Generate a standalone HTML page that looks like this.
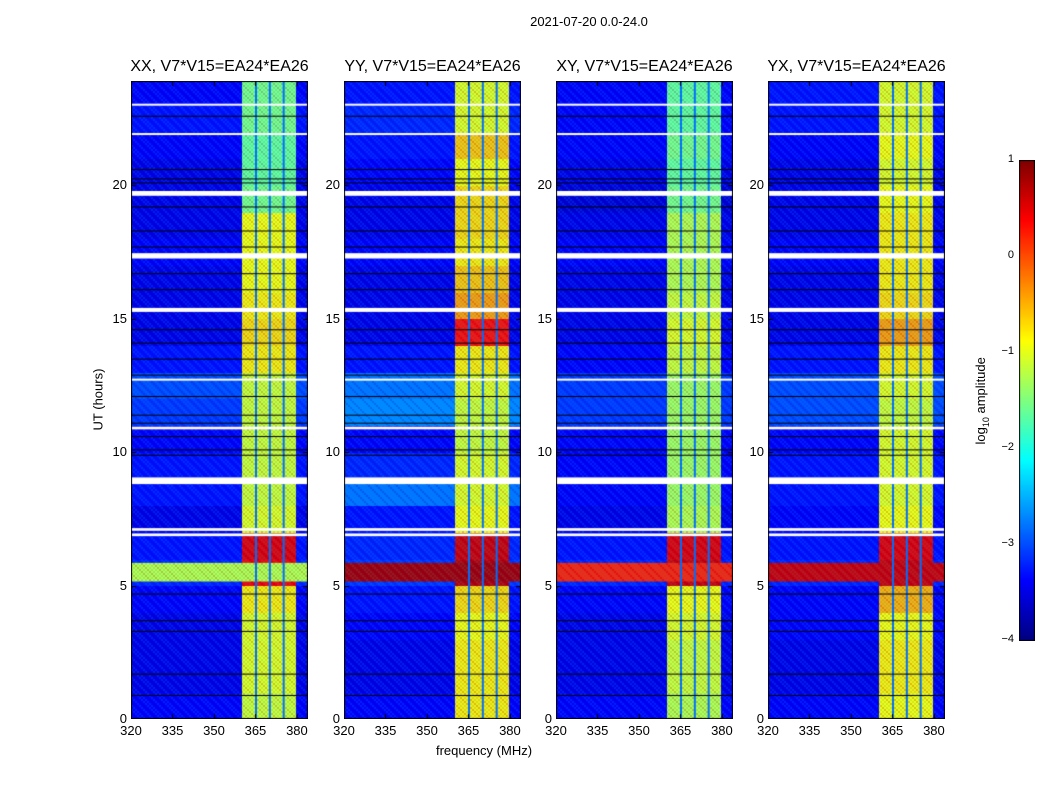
<!DOCTYPE html>
<html><head><meta charset="utf-8">
<style>
body{margin:0;background:#fff;width:1050px;height:800px;position:relative;font-family:"Liberation Sans",sans-serif;overflow:hidden}
.t{position:absolute;white-space:nowrap;color:#000}
canvas{position:absolute}
</style></head>
<body>
<div class="t" style="left:489px;top:14px;width:200px;text-align:center;font-size:13px">2021-07-20 0.0-24.0</div>
<div class="t" style="left:48px;top:392px;width:100px;text-align:center;font-size:13px;transform:rotate(-90deg)">UT (hours)</div>
<div class="t" style="left:384px;top:743px;width:200px;text-align:center;font-size:13px">frequency (MHz)</div>
<div class="t" style="left:922px;top:392px;width:120px;text-align:center;font-size:13px;transform:rotate(-90deg)">log<sub style="font-size:9px">10</sub> amplitude</div>
<canvas id="cb" width="16" height="481" style="left:1019px;top:160px"></canvas>
<div id="root"></div>
<script>
// ---- data ----
const panelTitles=["XX, V7*V15=EA24*EA26","YY, V7*V15=EA24*EA26","XY, V7*V15=EA24*EA26","YX, V7*V15=EA24*EA26"];
const xTicks=[320,335,350,365,380];
const yTicks=[0,5,10,15,20];
const cbTicks=[1,0,-1,-2,-3,-4];
// frequency channel edges (MHz) and whether channel is in bright band
const chanEdges=[320,360.4,365.2,370.2,375.2,380,384];
const chanIsBand=[0,1,1,1,1,0];
// hourly log10 amplitude levels (hour 0..23)
const bandXX=[-1.1,-1.0,-1.0,-1.0,-0.8,0.4,0.5,-1.0,-1.1,-1.1,-1.1,-1.1,-1.1,-0.8,-0.7,-0.8,-0.9,-0.9,-0.9,-1.5,-1.6,-1.6,-1.5,-1.5];
const bandYY=[-0.8,-0.8,-0.8,-0.9,-0.7,0.7,0.6,-0.9,-1.0,-1.0,-1.1,-1.1,-1.0,-0.8,0.3,-0.4,-0.6,-0.8,-0.7,-0.7,-0.9,-0.6,-1.0,-1.0];
const bandXY=[-1.2,-1.1,-1.1,-1.0,-0.9,0.6,0.5,-1.2,-1.3,-1.3,-1.3,-1.3,-1.3,-1.1,-1.0,-1.1,-1.2,-1.2,-1.2,-1.5,-1.6,-1.5,-1.6,-1.6];
const bandYX=[-0.9,-0.8,-0.8,-0.9,-0.5,0.6,0.5,-0.9,-1.0,-1.0,-1.0,-1.1,-1.0,-0.8,-0.4,-0.7,-0.8,-0.8,-0.8,-0.9,-1.0,-0.9,-1.0,-1.0];
const bgXX=[-3.4,-3.5,-3.5,-3.5,-3.4,-3.2,-3.3,-3.5,-3.3,-3.3,-3.4,-3.1,-3.0,-3.3,-3.5,-3.5,-3.5,-3.4,-3.5,-3.5,-3.5,-3.4,-3.3,-3.4];
const bgYY=[-3.4,-3.5,-3.5,-3.4,-3.3,-3.1,-3.2,-3.3,-2.8,-3.2,-3.4,-2.7,-2.8,-3.3,-3.5,-3.5,-3.5,-3.4,-3.5,-3.5,-3.4,-3.3,-3.2,-3.3];
const bgXY=[-3.4,-3.5,-3.5,-3.5,-3.4,-3.2,-3.3,-3.5,-3.4,-3.4,-3.4,-3.1,-3.1,-3.4,-3.5,-3.5,-3.5,-3.4,-3.5,-3.6,-3.5,-3.4,-3.4,-3.4];
const bgYX=[-3.4,-3.5,-3.5,-3.4,-3.4,-3.2,-3.3,-3.4,-3.3,-3.3,-3.4,-3.0,-3.0,-3.3,-3.5,-3.5,-3.5,-3.4,-3.5,-3.5,-3.5,-3.4,-3.3,-3.3];
const bandLevels=[bandXX,bandYY,bandXY,bandYX];
const bgLevels=[bgXX,bgYY,bgXY,bgYX];
// broadband RFI stripe near 5.5h: start, end hour, level per panel
const rfiStart=[5.15], rfiEnd=[5.85];
const rfiLevel=[-1.2,0.8,0.2,0.6];
// flagged (white) time ranges
const flagStart=[6.85,7.05,8.8,10.85,12.7,15.25,17.25,19.6,21.9,23.0];
const flagEnd=[6.95,7.15,9.05,10.95,12.75,15.4,17.45,19.78,21.95,23.05];
// dark (black) lines, hours
const darkLines=[0.9,1.7,3.3,3.7,4.7,9.9,10.1,10.6,11.1,11.4,12.1,12.9,13.5,14.1,14.6,16.1,16.7,17.7,18.3,19.2,20.1,20.25,20.6,22.6];
// ---- layout ----
const panelX=[131,344,556,768], panelY=81, panelW=177, panelH=638;
const fMin=320,fMax=384, tMin=0,tMax=23.9;
function xs(f){return (f-fMin)/(fMax-fMin)*panelW;}
function ys(t){return panelH-(t-tMin)/(tMax-tMin)*panelH;}
function jet(v){ // v in [-4,1]
  let x=(v+4)/5; x=Math.max(0,Math.min(1,x));
  const f=(a)=>Math.max(0,Math.min(1,1.5-Math.abs(4*x-a)));
  return [f(3)*255|0,f(2)*255|0,f(1)*255|0];
}
const root=document.getElementById('root');
function addText(txt,l,t,w,align,size,name){
  const d=document.createElement('div');d.className='t';
  
  
  d.style.cssText=`left:${l}px;top:${t}px;width:${w}px;text-align:${align};font-size:${size}px`;
  d.textContent=txt;root.appendChild(d);
}
panelTitles.forEach((title,p)=>{
  const px=panelX[p];
  addText(title,px-30,58,panelW+60,'center',16,'panel-title');
  const c=document.createElement('canvas');
  c.width=panelW;c.height=panelH;c.style.left=px+'px';c.style.top=panelY+'px';
  
  
  root.appendChild(c);
  const g=c.getContext('2d');
  for(let h=0;h<24;h++){
    for(let k=0;k<chanIsBand.length;k++){
      const v=chanIsBand[k]?bandLevels[p][h]:bgLevels[p][h];
      const [r,gg,b]=jet(v);g.fillStyle=`rgb(${r},${gg},${b})`;
      const x0=xs(chanEdges[k]),x1=xs(chanEdges[k+1]);
      const y0=ys(h+1),y1=ys(h);
      g.fillRect(Math.floor(x0),Math.floor(y0),Math.ceil(x1-x0)+1,Math.ceil(y1-y0)+1);
    }
  }
  // RFI stripe
  rfiStart.forEach((s,i)=>{
    const [r,gg,b]=jet(rfiLevel[p]);g.fillStyle=`rgb(${r},${gg},${b})`;
    g.fillRect(0,ys(rfiEnd[i]),panelW,ys(s)-ys(rfiEnd[i]));
  });
  // dither texture
  g.globalAlpha=0.22;
  for(let y=0;y<panelH;y+=2)for(let x=((y>>1)%2)*2;x<panelW;x+=4){g.fillStyle=((x*7+y*13)%5<2)?'#0000c0':'#0090ff';g.fillRect(x,y,2,2);}
  g.globalAlpha=1;
  // channel separators
  for(let k=2;k<chanIsBand.length-1;k++){
    g.fillStyle='rgb(0,110,255)';g.fillRect(xs(chanEdges[k])-1,0,2,panelH);
  }
  g.fillStyle='#000';
  darkLines.forEach(t=>g.fillRect(0,ys(t),panelW,1));
  g.fillStyle='#fff';
  flagStart.forEach((s,i)=>g.fillRect(0,ys(flagEnd[i]),panelW,Math.max(2,ys(s)-ys(flagEnd[i]))));
  g.strokeStyle='#000';g.lineWidth=1;g.strokeRect(0.5,0.5,panelW-1,panelH-1);
  g.beginPath();
  xTicks.forEach(f=>{const x=Math.round(xs(f))+0.5;g.moveTo(x,panelH);g.lineTo(x,panelH-5);g.moveTo(x,0);g.lineTo(x,5);});
  yTicks.forEach(t=>{const y=Math.round(ys(t))+0.5;g.moveTo(0,y);g.lineTo(5,y);g.moveTo(panelW,y);g.lineTo(panelW-5,y);});
  g.stroke();
  xTicks.forEach(f=>addText(String(f),px+xs(f)-20,panelY+panelH+4,40,'center',13,'x-tick-label'));
  yTicks.forEach(t=>addText(String(t),px-44,panelY+ys(t)-8,40,'right',13,'y-tick-label'));
});
// colorbar
const cb=document.getElementById('cb'),cg=cb.getContext('2d');
for(let y=0;y<481;y++){const v=1-y/480*5;const [r,gg,b]=jet(v);cg.fillStyle=`rgb(${r},${gg},${b})`;cg.fillRect(0,y,16,1);}
cg.strokeStyle='#000';cg.strokeRect(0.5,0.5,15,480);
cbTicks.forEach(v=>addText(v<0?'\u2212'+(-v):String(v),974,160+(1-v)/5*480-7,40,'right',11,'colorbar-tick-label'));
</script>
</body></html>
